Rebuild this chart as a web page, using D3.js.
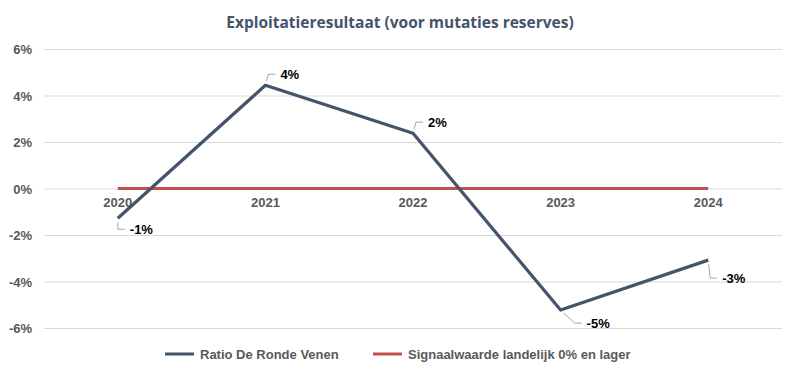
<!DOCTYPE html>
<html>
<head>
<meta charset="utf-8">
<script src="https://d3js.org/d3.v7.min.js"></script>
<style>
body { margin: 0; background: #fff; }
svg { display: block; }
.tick text { font-family: "Liberation Sans", Arial, sans-serif; font-weight: bold; font-size: 13px; fill: #595959; }
</style>
</head>
<body>
<svg width="797" height="373"></svg>
<script>
// data
var years = ["2020", "2021", "2022", "2023", "2024"];
var ratio = [-1.28, 4.44, 2.38, -5.23, -3.08];
var signaal = [0, 0, 0, 0, 0];
var yTicks = [-6, -4, -2, 0, 2, 4, 6];
var pointLabels = ["-1%", "4%", "2%", "-5%", "-3%"];
var labelOffsets = [[12, 11], [15, -11], [15, -11], [26, 13], [14, 18]];

var svg = d3.select("svg");
var plotLeft = 44, plotRight = 782, plotTop = 49, plotBottom = 328;

var x = d3.scaleBand().domain(years).range([plotLeft, plotRight]);
var y = d3.scaleLinear().domain([-6, 6]).range([plotBottom, plotTop]);
var cx = function(d) { return x(d) + x.bandwidth() / 2; };

// title
svg.append("text")
  .attr("x", 400).attr("y", 28)
  .attr("text-anchor", "middle")
  .style("font-family", "'Open Sans', sans-serif")
  .style("font-weight", "bold")
  .style("font-size", "15.5px")
  .style("fill", "#44546A")
  .text("Exploitatieresultaat (voor mutaties reserves)");

// grid + y axis
var yAxis = svg.append("g")
  .attr("transform", "translate(" + plotLeft + ",0)")
  .call(d3.axisLeft(y).tickValues(yTicks).tickSize(-(plotRight - plotLeft)).tickFormat(function(d) { return d + "%"; }));
yAxis.select(".domain").remove();
yAxis.selectAll(".tick line").attr("stroke", "#d9d9d9").attr("stroke-width", 1);
yAxis.selectAll(".tick text").attr("x", -12).attr("dy", "0.35em");

// x axis labels at 0
var xAxis = svg.append("g")
  .attr("transform", "translate(0," + y(0) + ")")
  .call(d3.axisBottom(x).tickSize(0));
xAxis.select(".domain").remove();
xAxis.selectAll(".tick text").attr("y", 9).attr("dy", "0.71em");

var line = d3.line().x(function(d, i) { return cx(years[i]); }).y(function(d) { return y(d); });

// red signal line
svg.append("path").datum(signaal)
  .attr("d", line)
  .attr("fill", "none")
  .attr("stroke", "#C0504D")
  .attr("stroke-width", 3);

// blue ratio line
svg.append("path").datum(ratio)
  .attr("d", line)
  .attr("fill", "none")
  .attr("stroke", "#44546A")
  .attr("stroke-width", 3.2)
  .attr("stroke-linejoin", "round");

// data labels with leader lines
ratio.forEach(function(v, i) {
  var px = cx(years[i]), py = y(v);
  var lx = px + labelOffsets[i][0], ly = py + labelOffsets[i][1];
  var ex = lx - 12;
  var ang = Math.atan2(ly - py, ex - px);
  svg.append("polyline")
    .attr("points", [[px + 4 * Math.cos(ang), py + 4 * Math.sin(ang)], [ex, ly], [lx - 5, ly]].map(function(p) { return p.join(","); }).join(" "))
    .attr("fill", "none")
    .attr("stroke", "#a6a6a6")
    .attr("stroke-width", 1);
  svg.append("text")
    .attr("x", lx).attr("y", ly).attr("dy", "0.35em")
    .style("font-family", "'Liberation Sans', Arial, sans-serif")
    .style("font-weight", "bold")
    .style("font-size", "13px")
    .style("fill", "#000")
    .text(pointLabels[i]);
});

// legend
var legend = [
  { name: "Ratio De Ronde Venen", color: "#44546A", x: 165 },
  { name: "Signaalwaarde landelijk 0% en lager", color: "#C0504D", x: 373 }
];
legend.forEach(function(l) {
  svg.append("line")
    .attr("x1", l.x).attr("x2", l.x + 29)
    .attr("y1", 354).attr("y2", 354)
    .attr("stroke", l.color).attr("stroke-width", 3);
  svg.append("text")
    .attr("x", l.x + 35).attr("y", 354).attr("dy", "0.35em")
    .style("font-family", "'Liberation Sans', Arial, sans-serif")
    .style("font-weight", "bold")
    .style("font-size", "13px")
    .style("fill", "#595959")
    .text(l.name);
});
</script>
</body>
</html>
